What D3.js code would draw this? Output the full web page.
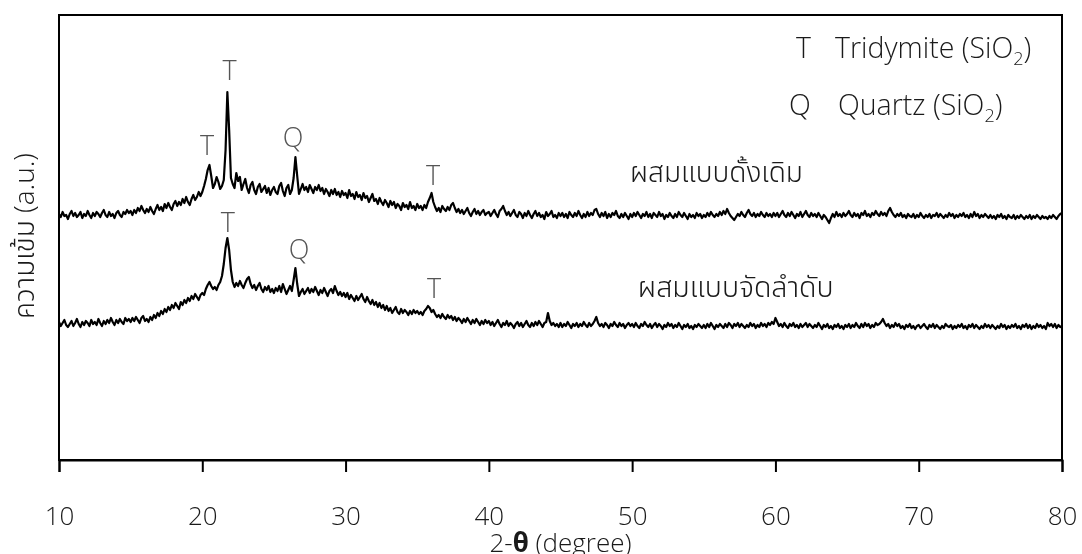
<!DOCTYPE html>
<html>
<head>
<meta charset="utf-8">
<script src="https://cdn.jsdelivr.net/npm/d3@7"></script>
<style>
  html, body { margin: 0; padding: 0; background: #fff; }
  svg { will-change: transform; }
  svg text { font-family: "Open Sans", "Noto Sans Thai", "Noto Sans", "DejaVu Sans", sans-serif; font-weight: 300; }
</style>
</head>
<body>
<svg id="chart" width="1082" height="554"></svg>
<script>
// ---- data ----
const xMin = 10, xMax = 80;          // 2-theta range (degree), step 0.125
const xTicks = [10, 20, 30, 40, 50, 60, 70, 80];

// intensity (a.u.) – conventional mixing (ผสมแบบดั้งเดิม), 10° … 80°
const conventional = [
246,243,248,244,245,241,246,249,244,247,243,245,248,242,246,244,249,245,242,247,
244,248,246,243,247,250,245,243,248,244,246,242,247,249,245,243,248,246,250,247,
249,245,250,247,252,249,254,250,247,251,248,253,249,246,251,255,250,253,249,256,
252,257,253,250,256,259,254,258,255,261,257,263,258,255,261,265,260,263,268,264,
268,274,281,290,295,284,272,276,283,278,271,274,280,310,368,330,282,276,272,287,
279,283,270,276,281,272,267,275,278,270,266,273,276,268,271,274,267,272,265,270,
273,268,266,274,277,269,264,272,275,266,270,282,303,284,266,271,276,270,273,268,
275,271,267,273,270,275,269,272,266,271,268,264,270,266,271,265,268,263,269,265,
267,262,270,264,266,261,268,263,265,260,267,262,264,258,262,266,259,261,256,262,
258,255,260,257,253,259,255,258,252,256,254,250,257,253,255,251,258,252,254,250,
256,252,254,250,255,252,258,262,267,258,253,249,252,248,254,251,249,253,250,255,
257,252,248,251,247,250,246,249,252,247,244,248,251,246,249,245,248,250,245,247,
248,244,247,250,246,243,249,251,254,249,245,248,244,247,250,245,243,248,246,242,
247,244,249,245,242,246,249,244,247,243,245,241,248,244,246,249,243,245,242,247,
244,247,243,246,242,248,245,243,247,244,249,245,242,246,243,248,244,247,245,250,
251,246,243,247,244,248,242,246,243,247,245,249,244,242,246,243,247,244,241,246,
243,247,244,248,245,242,246,244,248,243,246,242,247,245,243,248,244,246,241,245,
243,247,244,242,246,243,248,245,243,247,244,241,246,243,245,242,247,244,246,242,
245,243,247,244,248,245,243,246,244,248,245,249,246,251,247,244,242,240,243,246,
244,248,245,243,247,250,246,244,247,243,246,244,248,245,243,247,244,246,243,247,
244,247,243,246,249,245,243,247,244,248,245,242,246,244,248,243,246,249,245,243,
247,244,246,243,247,244,241,245,243,240,237,242,246,243,248,244,246,243,247,244,
246,249,245,243,247,244,246,242,247,245,249,244,246,243,247,245,249,246,244,248,
245,247,244,249,252,248,245,243,246,244,247,243,245,242,246,244,243,246,242,245,
243,247,244,242,245,243,246,242,245,244,247,243,246,244,242,245,243,247,244,246,
242,245,243,246,244,247,243,245,242,246,243,248,244,246,242,245,243,246,244,242,
245,242,244,241,245,243,246,242,244,241,245,243,242,245,241,244,242,245,243,241,
244,242,245,241,244,242,245,243,241,244,242,243,241,244,242,245,243,241,244,246,
247
];

// intensity (a.u.) – sequential mixing (ผสมแบบจัดลำดับ), 10° … 80°
const sequential = [
138,134,137,140,135,133,136,139,134,137,141,136,133,138,135,139,137,134,140,136,
138,135,141,137,134,139,136,140,137,142,138,135,140,137,141,138,136,142,139,141,
138,142,139,143,140,137,142,144,139,141,138,143,140,145,142,147,144,149,146,151,
148,153,150,155,152,157,154,151,158,155,160,157,162,159,164,161,166,163,160,165,
167,165,171,175,178,174,171,173,170,175,178,184,196,212,222,210,190,178,173,177,
174,179,175,172,177,181,183,176,172,175,170,174,177,171,168,173,170,174,168,171,
167,172,169,174,168,176,171,166,170,174,169,180,192,176,164,168,171,166,169,172,
167,171,168,173,169,165,170,167,172,168,164,169,171,167,174,169,165,168,164,167,
163,167,161,165,162,159,164,160,163,166,161,158,163,159,156,160,155,158,153,157,
152,155,150,154,149,152,147,150,153,148,146,151,147,150,148,145,149,146,150,147,
149,146,148,145,149,151,154,152,148,150,146,143,145,142,146,143,141,145,142,144,
140,143,139,142,140,137,141,138,142,139,136,140,137,141,138,135,139,136,140,137,
139,135,138,134,137,140,136,133,137,135,139,134,137,135,132,136,138,134,137,133,
136,139,135,133,137,134,138,135,139,136,133,137,138,147,139,135,137,134,136,133,
137,133,136,134,138,135,132,136,134,137,133,136,134,138,135,133,137,134,136,139,
143,137,134,136,133,137,135,132,136,134,138,135,133,137,134,136,132,135,137,134,
136,133,137,134,132,136,134,138,135,133,136,132,135,137,133,136,134,131,135,133,
137,134,136,132,135,133,137,134,131,135,133,136,132,134,131,135,133,136,134,132,
135,132,136,133,137,134,131,135,133,136,134,132,136,133,137,135,132,136,134,137,
133,136,134,132,135,133,137,134,136,132,135,133,137,134,136,133,137,135,138,136,
142,138,134,136,133,137,134,132,136,134,137,133,135,132,136,133,135,137,133,136,
134,132,135,133,137,134,131,135,133,136,132,134,131,135,133,136,132,134,131,135,
133,136,132,135,133,137,134,132,136,133,137,134,136,132,135,133,137,135,136,138,
141,137,134,136,132,135,133,137,134,136,132,134,131,135,133,136,132,134,131,134,
135,132,134,136,133,131,135,133,136,132,135,133,131,134,132,136,134,133,135,131,
134,132,135,133,136,132,134,131,135,133,136,132,135,133,131,134,132,136,133,135,
132,135,133,131,134,132,136,133,135,131,134,132,135,133,136,132,134,131,135,133,
136,132,135,131,134,132,136,133,135,132,134,131,137,134,136,133,136,132,135,133,
134
];

// peak markers
const peakAngles  = [20.33, 21.9, 26.33, 36.1, 21.79, 26.75, 36.17];
const peakHeights = [305, 380, 313, 275, 228, 201, 162];
const peakLabels  = ["T", "T", "Q", "T", "T", "Q", "T"];

const seriesNames  = ["ผสมแบบดั้งเดิม", "ผสมแบบจัดลำดับ"];
const seriesLabelX = [49.85, 50.4];
const seriesLabelY = [278, 163];

const legendSymbols = ["T", "Q"];
const legendNames   = ["Tridymite (SiO", "Quartz (SiO"];

// ---- layout ----
const svg = d3.select("#chart");
const L = 59, R = 1062, T = 15, B = 460;
const x = d3.scaleLinear().domain([xMin, xMax]).range([L, R]);
const y = d3.scaleLinear().domain([0, 445]).range([B, T]);

const toPts = arr => arr.map((v, i) => [xMin + i * (xMax - xMin) / (arr.length - 1), v]);
const line = d3.line().x(d => x(d[0])).y(d => y(d[1]));

// traces
[conventional, sequential].forEach(s => {
  svg.append("path")
    .attr("d", line(toPts(s)))
    .attr("fill", "none")
    .attr("stroke", "#000")
    .attr("stroke-width", 2.2)
    .attr("stroke-linejoin", "round");
});

// frame
svg.append("rect")
  .attr("x", L).attr("y", T).attr("width", R - L).attr("height", B - T)
  .attr("fill", "none").attr("stroke", "#000").attr("stroke-width", 2);

// x axis
const xAxis = d3.axisBottom(x).tickValues(xTicks).tickSize(12).tickFormat(d3.format("d"));
const gx = svg.append("g").attr("transform", `translate(0,${B})`).call(xAxis);
gx.select(".domain").attr("stroke-width", 2);
gx.selectAll(".tick line").attr("stroke-width", 2);
gx.selectAll(".tick text").attr("y", 65).attr("dy", 0)
  .attr("font-size", 26).attr("fill", "#1a1a1a");

// axis titles
const xt = svg.append("text").attr("x", (L + R) / 2).attr("y", 552).attr("text-anchor", "middle")
  .attr("font-size", 26).attr("fill", "#1a1a1a");
xt.append("tspan").text("2-");
xt.append("tspan").attr("font-weight", "bold").text("θ");
xt.append("tspan").text(" (degree)");

svg.append("text")
  .attr("transform", `translate(34,236) rotate(-90)`)
  .attr("text-anchor", "middle").attr("font-size", 28).attr("fill", "#1a1a1a")
  .text("ความเข้ม (a.u.)");

// peak labels
peakAngles.forEach((a, i) => {
  svg.append("text")
    .attr("x", x(a)).attr("y", y(peakHeights[i]))
    .attr("text-anchor", "middle").attr("font-size", 27).attr("fill", "#555")
    .text(peakLabels[i]);
});

// series labels
seriesNames.forEach((n, i) => {
  svg.append("text")
    .attr("x", x(seriesLabelX[i])).attr("y", y(seriesLabelY[i]))
    .attr("font-size", i === 0 ? 28 : 28.5).attr("fill", "#1a1a1a")
    .text(n);
});

// legend
legendSymbols.forEach((s, i) => {
  const yy = 58 + i * 57;
  svg.append("text").attr("x", i === 0 ? 796 : 789).attr("y", yy)
    .attr("font-size", 28.5).attr("fill", "#1a1a1a").text(s);
  const t = svg.append("text").attr("x", i === 0 ? 835 : 838).attr("y", yy)
    .attr("font-size", 28.5).attr("fill", "#1a1a1a");
  t.append("tspan").text(legendNames[i]);
  t.append("tspan").attr("font-size", 18).attr("dy", 7).text("2");
  t.append("tspan").attr("dy", -7).text(")");
});
</script>
</body>
</html>
